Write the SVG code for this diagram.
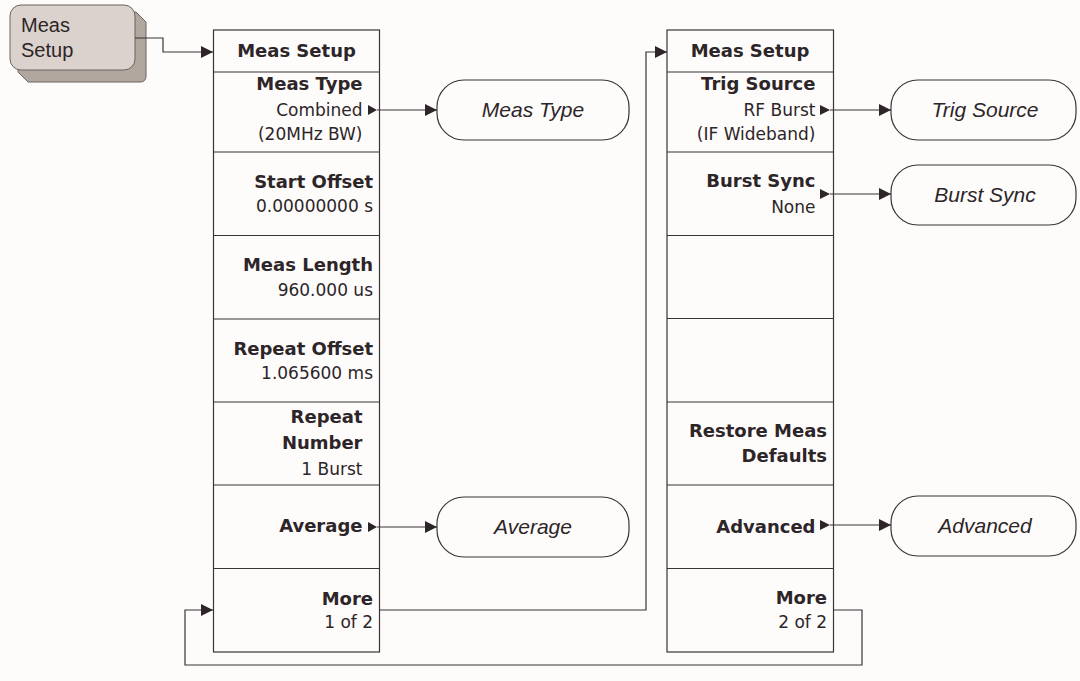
<svg xmlns="http://www.w3.org/2000/svg" width="1080" height="681" viewBox="0 0 1080 681">
<defs>
<style>
.bg{fill:#fdfcfb}
.col{fill:#fdfcfb;stroke:#3b3337;stroke-width:1.2}
.div{stroke:#3b3337;stroke-width:1.2}
.b{font-family:"DejaVu Sans",sans-serif;font-weight:bold;font-size:18px;fill:#2d2528;text-anchor:end}
.r{font-family:"DejaVu Sans",sans-serif;font-size:17px;fill:#2d2528;text-anchor:end}
.t{font-family:"DejaVu Sans",sans-serif;font-weight:bold;font-size:18px;fill:#2d2528;text-anchor:middle}
.ov{fill:#fdfcfb;stroke:#3b3337;stroke-width:1.2}
.it{font-family:"Liberation Sans",Arial,sans-serif;font-style:italic;font-size:21px;fill:#2d2528;text-anchor:middle}
.tri{fill:#2d2528}
.cn{fill:none;stroke:#3b3337;stroke-width:1.2}
.btn{font-family:"Liberation Sans",Arial,sans-serif;font-size:20px;fill:#2d2528}
</style>
<marker id="ah" markerUnits="userSpaceOnUse" markerWidth="13" markerHeight="13" refX="12" refY="6" orient="auto">
<path d="M0,0 L12,6 L0,12 z" fill="#2d2528"/>
</marker>
</defs>
<rect class="bg" x="0" y="0" width="1080" height="681"/>

<g id="key-meas-setup">
<path d="M20,17 Q20,12 25,12 L136,12 L146,22 L146,76 Q146,82 140,82 L28,82 L18,72 Z" fill="#b1a79f" stroke="#6b6260" stroke-width="1"/>
<rect x="10" y="5" width="125" height="65" rx="11" fill="#dbd2cd" stroke="#6b6260" stroke-width="1"/>
<text class="btn" x="21" y="32">Meas</text>
<text class="btn" x="21" y="57">Setup</text>
</g>

<g id="menu1">
<rect class="col" x="213.5" y="30" width="166" height="622"/>
<line class="div" x1="213.5" y1="72" x2="379.5" y2="72"/>
<line class="div" x1="213.5" y1="152" x2="379.5" y2="152"/>
<line class="div" x1="213.5" y1="235.5" x2="379.5" y2="235.5"/>
<line class="div" x1="213.5" y1="319" x2="379.5" y2="319"/>
<line class="div" x1="213.5" y1="402" x2="379.5" y2="402"/>
<line class="div" x1="213.5" y1="485" x2="379.5" y2="485"/>
<line class="div" x1="213.5" y1="568.5" x2="379.5" y2="568.5"/>
<text class="t" x="296.5" y="57">Meas Setup</text>
<g id="m1-meastype">
<text class="b" x="362.5" y="90">Meas Type</text>
<text class="r" x="362.5" y="116">Combined</text>
<text class="r" x="362.5" y="140">(20MHz BW)</text>
<path class="tri" d="M368,105 L377,110 L368,115 z"/>
</g>
<g id="m1-startoffset">
<text class="b" x="373" y="188">Start Offset</text>
<text class="r" x="373" y="212">0.00000000 s</text>
</g>
<g id="m1-measlength">
<text class="b" x="373" y="271">Meas Length</text>
<text class="r" x="373" y="296">960.000 us</text>
</g>
<g id="m1-repeatoffset">
<text class="b" x="373" y="355">Repeat Offset</text>
<text class="r" x="373" y="379">1.065600 ms</text>
</g>
<g id="m1-repeatnumber">
<text class="b" x="362.5" y="423">Repeat</text>
<text class="b" x="362.5" y="449">Number</text>
<text class="r" x="362.5" y="475">1 Burst</text>
</g>
<g id="m1-average">
<text class="b" x="362.5" y="532">Average</text>
<path class="tri" d="M368,522 L377,527 L368,532 z"/>
</g>
<g id="m1-more">
<text class="b" x="373" y="605">More</text>
<text class="r" x="373" y="628">1 of 2</text>
</g>
</g>

<g id="menu2">
<rect class="col" x="667" y="30" width="166.5" height="622"/>
<line class="div" x1="667" y1="72" x2="833.5" y2="72"/>
<line class="div" x1="667" y1="152" x2="833.5" y2="152"/>
<line class="div" x1="667" y1="235.5" x2="833.5" y2="235.5"/>
<line class="div" x1="667" y1="318.5" x2="833.5" y2="318.5"/>
<line class="div" x1="667" y1="402" x2="833.5" y2="402"/>
<line class="div" x1="667" y1="485" x2="833.5" y2="485"/>
<line class="div" x1="667" y1="568.5" x2="833.5" y2="568.5"/>
<text class="t" x="750" y="57">Meas Setup</text>
<g id="m2-trigsource">
<text class="b" x="815.5" y="90">Trig Source</text>
<text class="r" x="815.5" y="116">RF Burst</text>
<text class="r" x="815.5" y="140">(IF Wideband)</text>
<path class="tri" d="M820,105 L830,110 L820,115 z"/>
</g>
<g id="m2-burstsync">
<text class="b" x="815.5" y="187">Burst Sync</text>
<text class="r" x="815.5" y="213">None</text>
<path class="tri" d="M820,189 L830,194 L820,199 z"/>
</g>
<g id="m2-restore">
<text class="b" x="827" y="437">Restore Meas</text>
<text class="b" x="827" y="462">Defaults</text>
</g>
<g id="m2-advanced">
<text class="b" x="815.5" y="533">Advanced</text>
<path class="tri" d="M820,520 L830,525 L820,530 z"/>
</g>
<g id="m2-more">
<text class="b" x="827" y="604">More</text>
<text class="r" x="827" y="628">2 of 2</text>
</g>
</g>

<g id="sub-meastype">
<rect class="ov" x="437" y="80" width="192" height="60" rx="27"/>
<text class="it" x="533" y="117">Meas Type</text>
</g>
<g id="sub-average">
<rect class="ov" x="437" y="497" width="192" height="60" rx="27"/>
<text class="it" x="533" y="534">Average</text>
</g>
<g id="sub-trigsource">
<rect class="ov" x="891" y="80" width="185" height="60" rx="27"/>
<text class="it" x="985" y="117">Trig Source</text>
</g>
<g id="sub-burstsync">
<rect class="ov" x="891" y="165" width="185" height="60" rx="27"/>
<text class="it" x="985" y="202">Burst Sync</text>
</g>
<g id="sub-advanced">
<rect class="ov" x="891" y="496" width="185" height="60" rx="27"/>
<text class="it" x="985" y="533">Advanced</text>
</g>

<g id="connectors">
<path class="cn" d="M135,38 H163 V52 H213" marker-end="url(#ah)"/>
<path class="cn" d="M377,110 H437" marker-end="url(#ah)"/>
<path class="cn" d="M377,527 H437" marker-end="url(#ah)"/>
<path class="cn" d="M379.5,610 H646 V52 H667" marker-end="url(#ah)"/>
<path class="cn" d="M830,110 H891" marker-end="url(#ah)"/>
<path class="cn" d="M830,194 H891" marker-end="url(#ah)"/>
<path class="cn" d="M830,525 H891" marker-end="url(#ah)"/>
<path class="cn" d="M833.5,610 H862 V665 H185 V610 H213" marker-end="url(#ah)"/>
</g>
</svg>
